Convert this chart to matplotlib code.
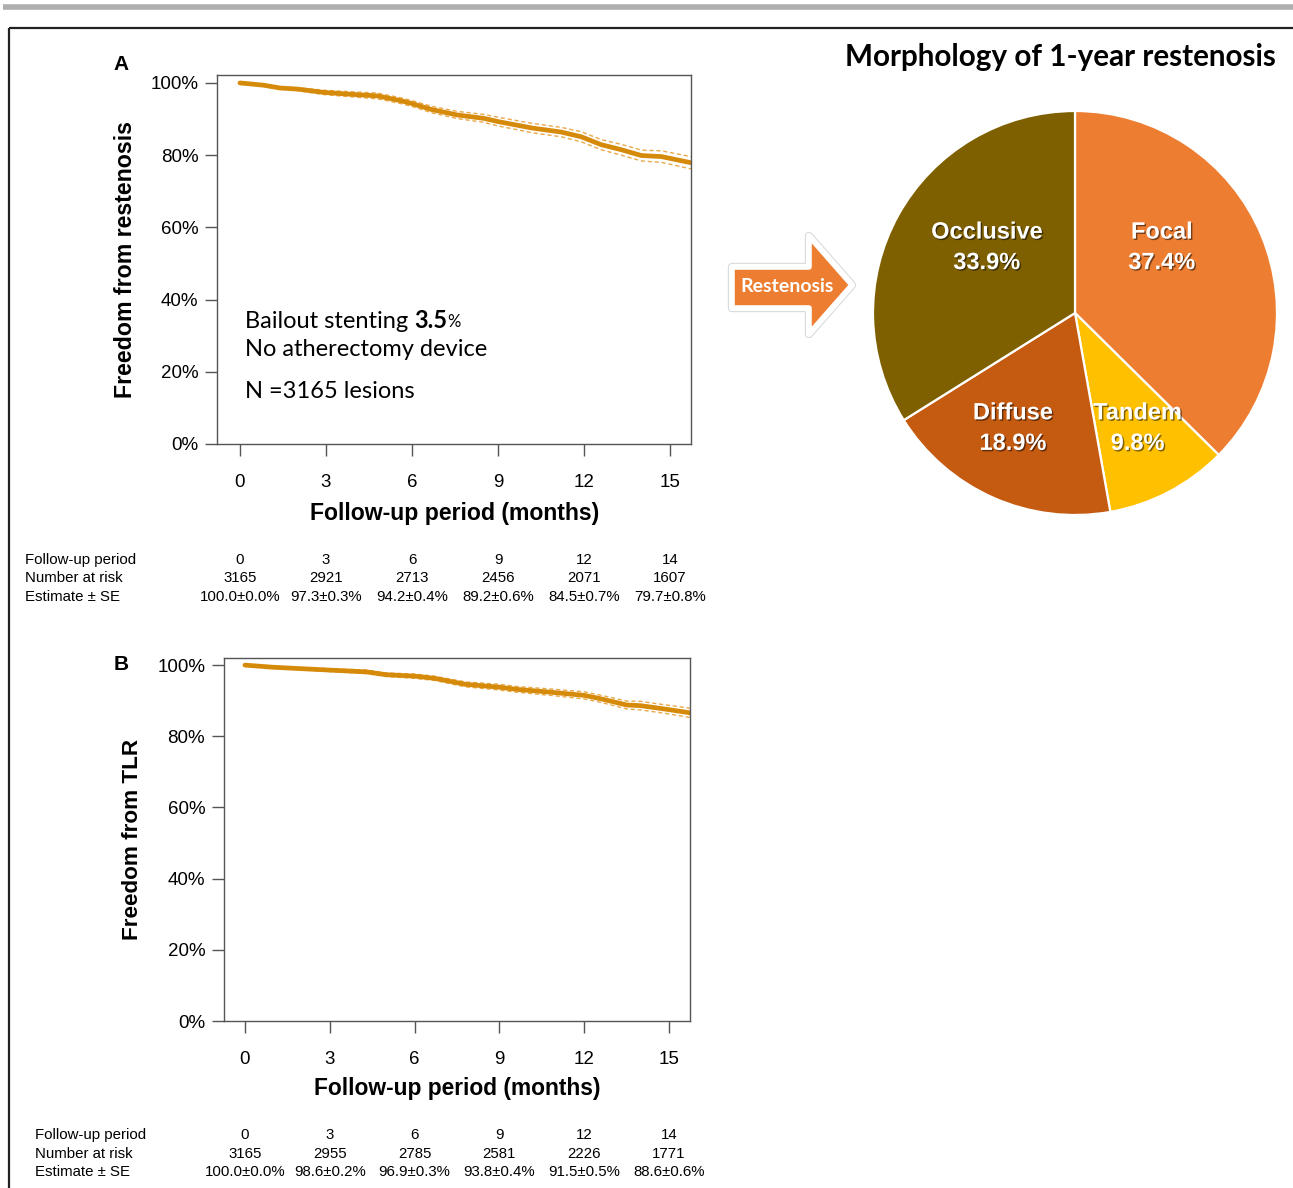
import numpy as np
import matplotlib
matplotlib.use('Agg')
import matplotlib.pyplot as plt
import matplotlib.patheffects as pe
from matplotlib.patches import Polygon
from matplotlib.transforms import blended_transform_factory

plt.rcParams['font.family'] = ['Liberation Sans', 'DejaVu Sans']

# panel A: freedom from restenosis
a_months = [0, 0.8, 1.4, 2.0, 2.9, 3.8, 4.8, 5.6, 6.0, 6.7, 7.6, 8.5, 9.0, 10.2, 11.2, 11.9, 12.6, 13.3, 14.0, 14.7, 15.73]
a_surv = [100, 99.4, 98.6, 98.3, 97.4, 96.9, 96.4, 95.1, 94.3, 92.6, 91.1, 90.2, 89.3, 87.5, 86.4, 85.1, 82.9, 81.5, 79.9, 79.6, 77.9]
a_ci = [0, 0.2, 0.3, 0.4, 0.6, 0.7, 0.8, 0.8, 0.8, 0.9, 1.0, 1.1, 1.2, 1.3, 1.3, 1.4, 1.4, 1.5, 1.5, 1.6, 1.7]

# panel B: freedom from TLR
b_months = [0, 1.0, 2.0, 3.0, 4.3, 5.0, 6.0, 6.7, 7.8, 9.0, 9.6, 10.8, 12.0, 12.5, 13.5, 14.0, 14.9, 15.74]
b_surv = [100, 99.4, 99.0, 98.6, 98.1, 97.3, 96.9, 96.3, 94.6, 93.8, 93.2, 92.4, 91.5, 90.7, 88.8, 88.6, 87.6, 86.6]
b_ci = [0, 0.2, 0.3, 0.4, 0.5, 0.5, 0.6, 0.6, 0.7, 0.8, 0.8, 0.9, 1.0, 1.0, 1.1, 1.2, 1.2, 1.3]

# risk tables
tab_period = ['0', '3', '6', '9', '12', '14']
a_risk = ['3165', '2921', '2713', '2456', '2071', '1607']
a_est = ['100.0±0.0%', '97.3±0.3%', '94.2±0.4%', '89.2±0.6%', '84.5±0.7%', '79.7±0.8%']
b_risk = ['3165', '2955', '2785', '2581', '2226', '1771']
b_est = ['100.0±0.0%', '98.6±0.2%', '96.9±0.3%', '93.8±0.4%', '91.5±0.5%', '88.6±0.6%']

# pie
pie_labels = ['Focal', 'Tandem', 'Diffuse', 'Occlusive']
pie_pct = [37.4, 9.8, 18.9, 33.9]
pie_colors = ['#ED7D31', '#FFC000', '#C55A11', '#7F6000']

W, H = 1293, 1188
fig = plt.figure(figsize=(W / 100, H / 100), dpi=100)

def px_axes(l, t, r, b):
  return fig.add_axes([l / W, 1 - b / H, (r - l) / W, (b - t) / H])

# overlay in pixel coords, drawn on top of everything
ov = fig.add_axes([0, 0, 1, 1])
ov.set_xlim(0, W)
ov.set_ylim(H, 0)
ov.axis('off')
ov.patch.set_visible(False)
ov.set_zorder(10)

# frame lines
ov.plot([3, W], [6.5, 6.5], color='#AEAEAE', lw=4, solid_capstyle='butt')
ov.plot([9, W], [28, 28], color='#222222', lw=1.6, solid_capstyle='butt')
ov.plot([9, 9], [28, H], color='#222222', lw=1.6, solid_capstyle='butt')

line_col = '#D68A0A'
ci_col = '#E8A94A'

def km_panel(ax, months, surv, ci, xlim, ylim, ylabel, xl_size, yl_size):
  months = np.array(months)
  surv = np.array(surv)
  ci = np.array(ci)
  ax.plot(months, surv + ci, '--', color=ci_col, lw=1.0, dashes=(3, 2))
  ax.plot(months, surv - ci, '--', color=ci_col, lw=1.0, dashes=(3, 2))
  ax.plot(months, surv, '-', color=line_col, lw=3.4, solid_capstyle='round')
  ax.set_xlim(xlim)
  ax.set_ylim(ylim)
  ax.set_xticks([0, 3, 6, 9, 12, 15])
  ax.set_yticks([0, 20, 40, 60, 80, 100])
  ax.set_yticklabels(['%d%%' % v for v in [0, 20, 40, 60, 80, 100]])
  for s in ax.spines.values():
    s.set_color('#555555')
    s.set_linewidth(1.0)
  ax.tick_params(direction='out', length=8.5, width=1.0, color='#555555', labelsize=13.5)
  ax.tick_params(axis='x', pad=13)
  ax.tick_params(axis='y', pad=5)
  ax.set_xlabel('Follow-up period (months)', fontsize=xl_size, fontweight='bold')
  ax.set_ylabel(ylabel, fontsize=yl_size, fontweight='bold')
  ax.xaxis.label.set_va('center')
  ax.yaxis.label.set_va('center')

axA = px_axes(217, 75, 691, 444)
km_panel(axA, a_months, a_surv, a_ci, (-0.8, 15.73), (0, 102.2), 'Freedom from restenosis', 16.6, 16.7)
axA.xaxis.set_label_coords(0.502, -0.187)
axA.yaxis.set_label_coords(-0.194, 0.5)

axB = px_axes(224, 658, 690, 1021)
km_panel(axB, b_months, b_surv, b_ci, (-0.74, 15.74), (0, 102.0), 'Freedom from TLR', 16.4, 16.2)
axB.xaxis.set_label_coords(0.5, -0.187)
axB.yaxis.set_label_coords(-0.197, 0.5)

ov.text(121, 64, 'A', fontsize=15, fontweight='bold', ha='center', va='center')
ov.text(121, 665, 'B', fontsize=15, fontweight='bold', ha='center', va='center')

# risk tables
col_pos = [0, 3, 6, 9, 12, 15]
def risk_table(ax, x0, rows_y, risk, est):
  tr = blended_transform_factory(ax.transData, ov.transData)
  names = ['Follow-up period', 'Number at risk', 'Estimate ± SE']
  for name, y in zip(names, rows_y):
    ov.text(x0, y, name, fontsize=10.8, ha='left', va='center')
  for vals, y in zip([tab_period, risk, est], rows_y):
    for p, v in zip(col_pos, vals):
      ax.text(p, y, v, transform=tr, fontsize=10.8, ha='center', va='center', clip_on=False)

risk_table(axA, 25, [560, 578.5, 597], a_risk, a_est)
risk_table(axB, 35, [1135, 1153.5, 1172], b_risk, b_est)

# annotation text in panel A
t1 = ov.text(245, 321, 'Bailout stenting ', fontsize=17, family='Lato', ha='left', va='center')
t2 = ov.annotate('3.5', xy=(1, 0), xycoords=t1, fontsize=17, family='Lato', fontweight='bold', ha='left', va='bottom')
ov.annotate('%', xy=(1, 0.05), xycoords=t2, fontsize=12, family='Lato', ha='left', va='bottom')
ov.text(245, 350, 'No atherectomy device', fontsize=17, family='Lato', ha='left', va='center')
ov.text(245, 391, 'N =3165 lesions', fontsize=17, family='Lato', ha='left', va='center')

# arrow
arrow = Polygon([(732, 267), (809, 267), (809, 236), (852, 285), (809, 334), (809, 308), (732, 308)],
                closed=True, facecolor='#ED7D31', edgecolor='white', lw=4, joinstyle='round',
                path_effects=[pe.SimplePatchShadow(offset=(1.5, -1.5), shadow_rgbFace='#777777', alpha=0.45),
                              pe.Stroke(linewidth=6, foreground='#D8D8D8', joinstyle='round'),
                              pe.Stroke(linewidth=4.5, foreground='white', joinstyle='round'), pe.Normal()])
ov.add_patch(arrow)
ov.text(787, 286, 'Restenosis', fontsize=14, family='Lato', fontweight='bold', color='white', ha='center', va='center')

# title
ov.text(1060, 57, 'Morphology of 1-year restenosis', fontsize=21.3, family='Lato', fontweight='bold', ha='center', va='center')

# pie
axP = px_axes(873, 111, 1277, 515)
axP.pie(pie_pct, colors=pie_colors, startangle=90, counterclock=False, radius=1,
        wedgeprops=dict(edgecolor='white', linewidth=1.6))
axP.set_xlim(-1.0, 1.0)
axP.set_ylim(-1.0, 1.0)
axP.set_aspect('equal')
label_pos = [(0.43, 0.325), (0.31, -0.57), (-0.307, -0.57), (-0.436, 0.325)]
for lab, pct, (x, y) in zip(pie_labels, pie_pct, label_pos):
  axP.text(x, y, '%s\n%.1f%%' % (lab, pct), fontsize=17, fontweight='bold', color='white',
           ha='center', va='center', linespacing=1.42,
           path_effects=[pe.withSimplePatchShadow(offset=(1, -1), shadow_rgbFace='black', alpha=0.5)])

plt.savefig('out.png', dpi=100)
